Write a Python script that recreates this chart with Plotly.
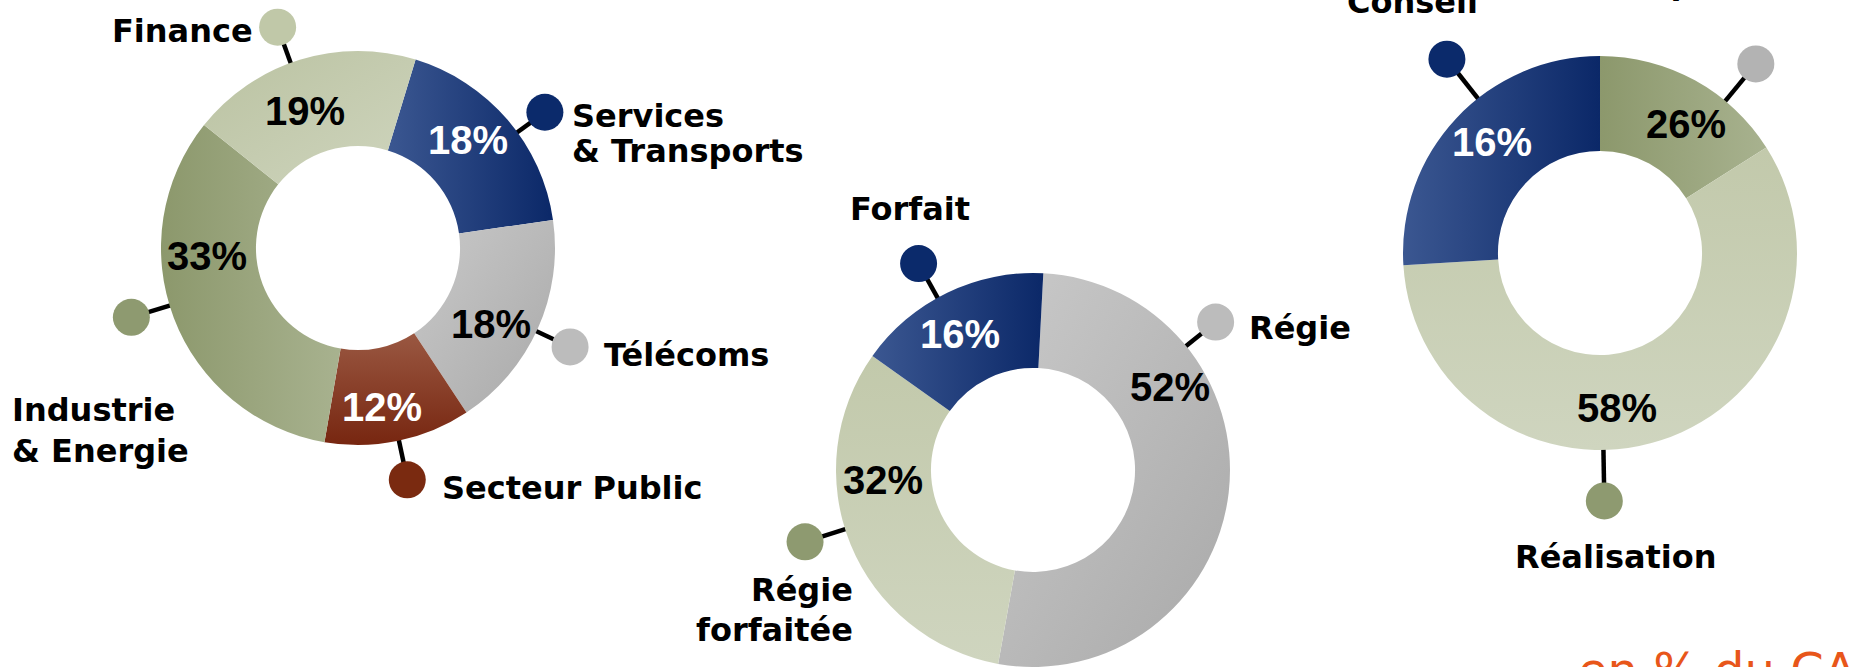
import json
import math
import plotly.graph_objects as go

W, H = 1856, 667

# ---------------- data ----------------
# Chart 1 - breakdown by sector (clockwise from the Services slice)
cats1 = ["Services<br>& Transports", "Télécoms", "Secteur Public", "Industrie<br>& Energie", "Finance"]
pct1 = [18, 18, 12, 33, 19]

# Chart 2 - breakdown by contract type (clockwise from the top)
cats2 = ["Régie", "Régie<br>forfaitée", "Forfait"]
pct2 = [52, 32, 16]

# Chart 3 - breakdown by activity (clockwise from the top)
cats3 = ["Expertise", "Réalisation", "Conseil"]
pct3 = [26, 58, 16]      # percentages printed on the slices
arc3 = [16, 58, 26]      # slice sizes as drawn in the source (print is swapped)

unit_note = "en % du CA"

# ---------------- style / layout ----------------
BLUE, BLUE_DOT = "#22407c", "#0b2a6b"
GREY, GREY_DOT = "#b9b9b9", "#bcbcbc"
BRICK, BRICK_DOT = "#86402c", "#7a2a10"
OLIVE, OLIVE_DOT = "#99a47c", "#8e9a70"
SAGE, SAGE_DOT = "#c6cdb1", "#c0c8a8"
SAGE2 = "#c8cfb5"

colors1 = [BLUE, GREY, BRICK, OLIVE, SAGE]
dots1 = [BLUE_DOT, GREY_DOT, BRICK_DOT, OLIVE_DOT, SAGE_DOT]
colors2 = [GREY, SAGE2, BLUE]
dots2 = [GREY_DOT, OLIVE_DOT, BLUE_DOT]
colors3 = [OLIVE, SAGE2, BLUE]
dots3 = ["#b3b3b3", OLIVE_DOT, BLUE_DOT]
txt1 = ["white", "black", "white", "black", "black"]
txt2 = ["black", "black", "white"]
txt3 = ["black", "black", "white"]

# slice shading (start colour, end colour, direction h / v / d)
G_BLUE = ["#3b5791", "#0b2868", "h"]
G_GREY = ["#c9c9c9", "#a9a9a9", "d"]
G_BRICK = ["#9a5842", "#772610", "v"]
G_OLIVE = ["#8c986c", "#a8b28f", "h"]
G_SAGE = ["#bac2a1", "#cfd5be", "d"]
G_SAGE2 = ["#c2c9ab", "#cfd5bf", "v"]
shade = [
    [G_BLUE, G_GREY, G_BRICK, G_OLIVE, G_SAGE],
    [G_GREY, G_SAGE2, G_BLUE],
    [G_OLIVE, G_SAGE2, G_BLUE],
]

# donut geometry in page pixels: centre, outer radius
D1 = dict(cx=358, cy=248, r=197, rot=17)
D2 = dict(cx=1033, cy=470, r=197, rot=3)
D3 = dict(cx=1600, cy=253, r=197, rot=0)
HOLE = 0.518

# callouts: (angle deg clockwise from top, distance of dot centre)
call1 = [(54, 231), (115, 234), (168, 237), (253, 237), (340, 235)]
call2 = [(51, 235), (252.5, 239), (331, 236)]
call3 = [(39.5, 245), (179, 248), (321.7, 247)]

# percentage label centres (px)
ppos1 = [(468, 140), (491, 324), (382, 407), (207, 256), (305, 111)]
ppos2 = [(1170, 387), (883, 480), (960, 334)]
ppos3 = [(1686, 124), (1617, 408), (1492, 142)]

# category label: (x, cap-centre y of first line, xanchor, line gap)
lpos1 = [(570, 115.5, "left", 35), (602, 354.5, "left", 0), (440, 487.5, "left", 0),
         (9.5, 409.5, "left", 41), (255, 30.5, "right", 0)]
lpos2 = [(1247, 327.5, "left", 0), (855, 589.5, "right", 40), (910, 209, "center", 0)]
lpos3 = [(1713, -17, "center", 0), (1616, 556.5, "center", 0), (1412, 2, "center", 0)]

LAB_FONT = "DejaVu Sans"
PCT_FONT = "Liberation Sans"
PCT_SIZE = 40
LAB_SIZE = 32
DOT_R = 18.5


def px(x):
    return x / W


def py(y):
    return 1 - y / H


fig = go.Figure()


def add_donut(d, labels, values, colors):
    fig.add_trace(go.Pie(
        labels=[l.replace("<br>", " ") for l in labels], values=values, sort=False,
        direction="clockwise", rotation=d["rot"], hole=HOLE,
        marker=dict(colors=colors, line=dict(width=0)),
        textinfo="none", textposition="none", hoverinfo="skip", showlegend=False,
        domain=dict(x=[px(d["cx"] - d["r"]), px(d["cx"] + d["r"])],
                    y=[max(0, py(d["cy"] + d["r"])), min(1, py(d["cy"] - d["r"]))]),
    ))


add_donut(D1, cats1, pct1, colors1)
add_donut(D2, cats2, pct2, colors2)
add_donut(D3, cats3, arc3, colors3)

shapes = []
annotations = []


def point(d, ang, dist):
    a = math.radians(ang)
    return d["cx"] + dist * math.sin(a), d["cy"] - dist * math.cos(a)


def add_callouts(d, calls, dcols):
    for (ang, dist), col in zip(calls, dcols):
        x0, y0 = point(d, ang, d["r"] - 6)
        x1, y1 = point(d, ang, dist - 10)
        shapes.append(dict(type="line", xref="paper", yref="paper", layer="below",
                           x0=px(x0), y0=py(y0), x1=px(x1), y1=py(y1),
                           line=dict(color="black", width=4.5)))
        cx, cy = point(d, ang, dist)
        shapes.append(dict(type="circle", xref="paper", yref="paper", layer="above",
                           x0=px(cx - DOT_R), x1=px(cx + DOT_R),
                           y0=py(cy + DOT_R), y1=py(cy - DOT_R),
                           fillcolor=col, line=dict(width=0)))


add_callouts(D1, call1, dots1)
add_callouts(D2, call2, dots2)
add_callouts(D3, call3, dots3)


def add_text(text, x, y, xanchor, size, color, family, weight="bold"):
    annotations.append(dict(text=text, x=px(x), y=py(y), xref="paper", yref="paper",
                            xanchor=xanchor, yanchor="middle", showarrow=False,
                            font=dict(family=family, size=size, color=color, weight=weight)))


def add_pcts(values, pos, cols):
    for v, (x, y), c in zip(values, pos, cols):
        add_text(f"{v}%", x, y, "center", PCT_SIZE, c, PCT_FONT)


def add_labels(labels, pos):
    for lab, (x, y, xa, gap) in zip(labels, pos):
        for i, line in enumerate(lab.split("<br>")):
            add_text(line, x, y + i * gap, xa, LAB_SIZE, "black", LAB_FONT)


add_pcts(pct1, ppos1, txt1)
add_pcts(pct2, ppos2, txt2)
add_pcts(pct3, ppos3, txt3)
add_labels(cats1, lpos1)
add_labels(cats2, lpos2)
add_labels(cats3, lpos3)

add_text(unit_note, 1576, 670, "left", 48, "#e8561a", "DejaVu Sans", weight="normal")

fig.update_layout(
    width=W, height=H, autosize=False,
    margin=dict(l=0, r=0, t=0, b=0),
    paper_bgcolor="white", plot_bgcolor="white",
    shapes=shapes, annotations=annotations,
)

post = (
    "document.body.style.margin='0';document.body.style.overflow='hidden';"
    "var gd = document.getElementById('{plot_id}');"
    "var SH = " + json.dumps(shade) + ";"
    "var ns = 'http://www.w3.org/2000/svg';"
    "var svg = gd.querySelector('svg.main-svg');"
    "var defs = svg.querySelector('defs');"
    "if (!defs) { defs = document.createElementNS(ns, 'defs'); svg.insertBefore(defs, svg.firstChild); }"
    "function mk(id, g) {"
    "  var lg = document.createElementNS(ns, 'linearGradient'); lg.setAttribute('id', id);"
    "  var c = {h: [0,0,1,0], v: [0,0,0,1], d: [0,0,1,1]}[g[2]];"
    "  lg.setAttribute('x1', c[0]); lg.setAttribute('y1', c[1]); lg.setAttribute('x2', c[2]); lg.setAttribute('y2', c[3]);"
    "  [[0, g[0]], [1, g[1]]].forEach(function(s){ var st = document.createElementNS(ns, 'stop');"
    "    st.setAttribute('offset', s[0]); st.setAttribute('stop-color', s[1]); lg.appendChild(st); });"
    "  defs.appendChild(lg); }"
    "var tr = gd.querySelectorAll('g.pielayer g.trace');"
    "for (var t = 0; t < tr.length; t++) {"
    "  var sl = tr[t].querySelectorAll('g.slice path.surface');"
    "  for (var i = 0; i < sl.length && i < SH[t].length; i++) {"
    "    var id = 'shade_' + t + '_' + i; mk(id, SH[t][i]);"
    "    sl[i].style.fill = 'url(#' + id + ')'; } }"
)

fig.write_html("out.html", post_script=post, config={"displayModeBar": False})
